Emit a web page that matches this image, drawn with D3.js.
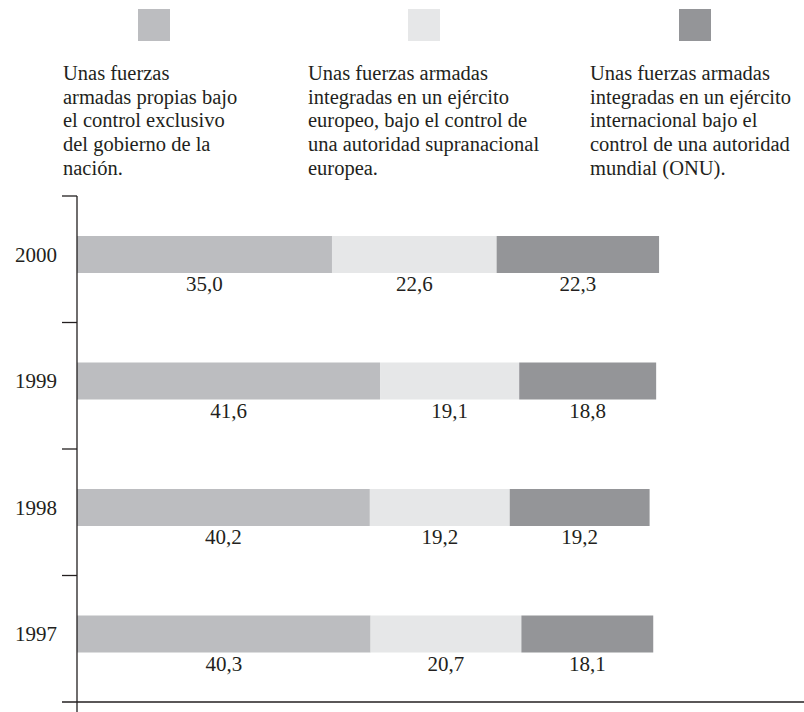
<html>
<script src="https://d3js.org/d3.v7.min.js"></script>
<body style="margin:0;background:#fff">
<script>
    // data
    var years = ['2000', '1999', '1998', '1997']
    var propias = [35.0, 41.6, 40.2, 40.3]
    var europeo = [22.6, 19.1, 19.2, 20.7]
    var onu = [22.3, 18.8, 19.2, 18.1]
    var seriesNames = ['propias', 'europeo', 'onu']
    var legendLines = [
        ['Unas fuerzas', 'armadas propias bajo', 'el control exclusivo', 'del gobierno de la', 'nación.'],
        ['Unas fuerzas armadas', 'integradas en un ejército', 'europeo, bajo el control de', 'una autoridad supranacional', 'europea.'],
        ['Unas fuerzas armadas', 'integradas en un ejército', 'internacional bajo el', 'control de una autoridad', 'mundial (ONU).']
    ]

    var width = 804, height = 712
    var font = '"Liberation Serif", "DejaVu Serif", serif'
    var colors = ['#bcbdc0', '#e6e7e8', '#949598']

    var svg = d3.select('body').append('svg').attr('width', width).attr('height', height)

    var x = d3.scaleLinear().domain([0, 100]).range([77, 805.5])
    var y = d3.scaleBand().domain(years).range([196, 702])
    var color = d3.scaleOrdinal().domain(seriesNames).range(colors)

    var rows = years.map(function(yr, i) {
        return {year: yr, propias: propias[i], europeo: europeo[i], onu: onu[i]}
    })
    var stacked = d3.stack().keys(seriesNames)(rows)

    var barOff = 40, barH = 37

    // bars
    var layers = svg.selectAll('g.layer').data(stacked).enter().append('g')
        .attr('class', 'layer').attr('fill', function(d){ return color(d.key) })
    layers.selectAll('rect').data(function(d){ return d }).enter().append('rect')
        .attr('x', function(d){ return x(d[0]) })
        .attr('width', function(d){ return x(d[1]) - x(d[0]) })
        .attr('y', function(d){ return y(d.data.year) + barOff })
        .attr('height', barH)

    // value labels under each segment
    layers.selectAll('text').data(function(d){ return d.map(function(s){ s.key = d.key; return s }) })
        .enter().append('text')
        .attr('x', function(d){ return (x(d[0]) + x(d[1])) / 2 })
        .attr('y', function(d){ return y(d.data.year) + barOff + barH + 18 })
        .attr('text-anchor', 'middle').attr('fill', '#231f20')
        .style('font-family', font).style('font-size', '21px')
        .text(function(d){ return d3.format('.1f')(d.data[d.key]).replace('.', ',') })

    // year labels
    svg.selectAll('text.year').data(years).enter().append('text').attr('class', 'year')
        .attr('x', 57).attr('y', function(d){ return y(d) + barOff + barH / 2 + 7 })
        .attr('text-anchor', 'end').attr('fill', '#231f20')
        .style('font-family', font).style('font-size', '21px')
        .text(function(d){ return d })

    // axis lines and ticks
    var ax = svg.append('g').attr('stroke', '#231f20').attr('stroke-width', 1.3)
    ax.append('line').attr('x1', x(0)).attr('x2', x(0)).attr('y1', y.range()[0]).attr('y2', height)
    ax.append('line').attr('x1', 62).attr('x2', width).attr('y1', y.range()[1]).attr('y2', y.range()[1])
    ax.selectAll('line.tick').data(years).enter().append('line').attr('class', 'tick')
        .attr('x1', 62).attr('x2', x(0))
        .attr('y1', function(d){ return y(d) }).attr('y2', function(d){ return y(d) })

    // legend
    var legX = [63, 308, 590]
    var boxX = [138, 408, 679]
    var leg = svg.selectAll('g.leg').data(seriesNames).enter().append('g').attr('class', 'leg')
    leg.append('rect')
        .attr('x', function(d, i){ return boxX[i] }).attr('y', 9)
        .attr('width', 32).attr('height', 32)
        .attr('fill', function(d){ return color(d) })
    leg.append('text')
        .attr('fill', '#231f20').style('font-family', font).style('font-size', '20.5px')
        .selectAll('tspan').data(function(d, i){ return legendLines[i].map(function(l){ return {t: l, i: i} }) })
        .enter().append('tspan')
        .attr('x', function(d){ return legX[d.i] })
        .attr('y', function(d, j){ return 80 + j * 23.7 })
        .text(function(d){ return d.t })
</script>
</body>
</html>
